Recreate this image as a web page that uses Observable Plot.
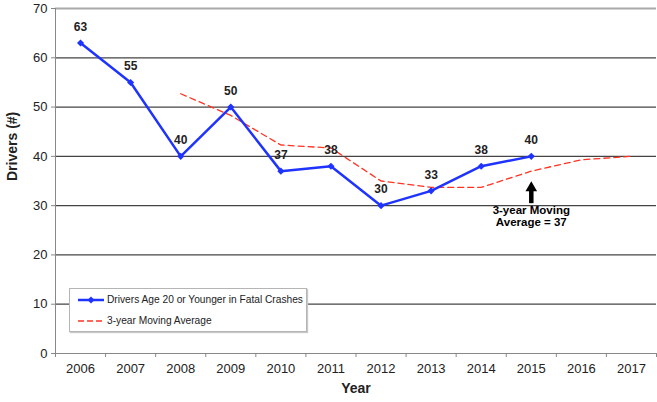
<!DOCTYPE html>
<html>
<head>
<meta charset="utf-8">
<script src="https://cdn.jsdelivr.net/npm/d3@7"></script>
<script src="https://cdn.jsdelivr.net/npm/@observablehq/plot@0.6"></script>
<style>
  html, body { margin: 0; padding: 0; background: #fff; }
  #wrap { position: relative; width: 657px; height: 402px; font-family: "Liberation Sans", Arial, Helvetica, sans-serif; }
  #legend { position: absolute; left: 69px; top: 288px; width: 236px; height: 42px; background: #fff;
    border: 1px solid #b5b5b5; box-shadow: 1px 1px 1px #c8c8c8; font-size: 10.2px; color: #222; }
  #legend .row { position: absolute; left: 8px; display: flex; align-items: center; white-space: nowrap; }
  #legend svg { margin-right: 3px; }
</style>
</head>
<body>
<div id="wrap">
  <div id="chart"></div>
  <div id="legend">
    <div class="row" style="top:5px"><svg width="26" height="10"><line x1="0" y1="5" x2="26" y2="5" stroke="#1f33ff" stroke-width="2.5"/><path d="M13,1.5 L16.5,5 L13,8.5 L9.5,5 Z" fill="#1f33ff"/></svg><span>Drivers Age 20 or Younger in Fatal Crashes</span></div>
    <div class="row" style="top:26px"><svg width="26" height="10"><line x1="0" y1="5" x2="26" y2="5" stroke="#ff3322" stroke-width="1.3" stroke-dasharray="6,3"/></svg><span>3-year Moving Average</span></div>
  </div>
</div>
<script>
const years = [2006, 2007, 2008, 2009, 2010, 2011, 2012, 2013, 2014, 2015, 2016, 2017];
const driverYears = [2006, 2007, 2008, 2009, 2010, 2011, 2012, 2013, 2014, 2015];
const driverValues = [63, 55, 40, 50, 37, 38, 30, 33, 38, 40];
const avgYears = [2008, 2009, 2010, 2011, 2012, 2013, 2014, 2015, 2016, 2017];
const avgValues = [52.7, 48.3, 42.3, 41.7, 35, 33.7, 33.7, 37, 39.3, 40];
const yTicks = [0, 10, 20, 30, 40, 50, 60, 70];
const gridValues = [10, 20, 30, 40, 50, 60];
const annotation = [{year: 2015, label: "3-year Moving\nAverage = 37", tip: 33.6, tail: 30.4, textAt: 27.9}];

const drivers = driverYears.map((year, i) => ({year, value: driverValues[i]}));
const avg = avgYears.map((year, i) => ({year, value: avgValues[i]}));
const boundaries = [years[0] - 0.5, ...years.map(y => y + 0.5)];

const blue = "#1f33ff";
const red = "#ff3322";

const chart = Plot.plot({
  width: 657,
  height: 402,
  marginLeft: 55,
  marginRight: 1,
  marginTop: 8,
  marginBottom: 49,
  style: {fontFamily: "Liberation Sans, Arial, Helvetica, sans-serif", fontSize: "13px", color: "#222", background: "#fff"},
  x: {domain: [boundaries[0], boundaries[boundaries.length - 1]], axis: null},
  y: {domain: [0, 70], axis: null},
  marks: [
    Plot.ruleY(gridValues, {stroke: "#444", strokeWidth: 1.2}),
    Plot.ruleY([70], {stroke: "#aaa", strokeWidth: 2}),
    Plot.ruleY([0], {stroke: "#888"}),
    Plot.ruleX([boundaries[0]], {stroke: "#888"}),
    Plot.axisY({ticks: yTicks, tickSize: 4, tickPadding: 4, stroke: "#888", tickFormat: d => String(d), fontSize: 13, label: null}),
    Plot.axisX({ticks: boundaries, tickSize: 4, tickFormat: () => "", stroke: "#888", label: null}),
    Plot.axisX({ticks: years, tickSize: 0, tickPadding: 10, tickFormat: d => String(d), fontSize: 13, label: null}),
    Plot.text(["Year"], {frameAnchor: "bottom", dy: 39, fontWeight: "bold", fontSize: 14, fill: "#222"}),
    Plot.text(["Drivers (#)"], {frameAnchor: "left", dx: -43, rotate: -90, fontWeight: "bold", fontSize: 14, fill: "#222"}),
    Plot.line(avg, {x: "year", y: "value", stroke: red, strokeWidth: 1.3, strokeDasharray: "6,4"}),
    Plot.line(drivers, {x: "year", y: "value", stroke: blue, strokeWidth: 2.5}),
    Plot.dot(drivers, {x: "year", y: "value", symbol: "diamond2", r: 3.2, fill: blue, stroke: null}),
    Plot.text(drivers, {x: "year", y: "value", text: d => String(d.value), dy: -16, fontWeight: "bold", fontSize: 12, fill: "#222"}),
    Plot.ruleX(annotation, {x: "year", y1: "tail", y2: "tip", stroke: "#000", strokeWidth: 4.5}),
    Plot.dot(annotation, {x: "year", y: "tip", symbol: "triangle", r: 4.3, fill: "#000", stroke: null}),
    Plot.text(annotation, {x: "year", y: "textAt", text: "label", fontWeight: "bold", fontSize: 11.5, lineHeight: 1.05, lineAnchor: "middle", fill: "#000"})
  ]
});
document.getElementById("chart").appendChild(chart);
</script>
</body>
</html>
